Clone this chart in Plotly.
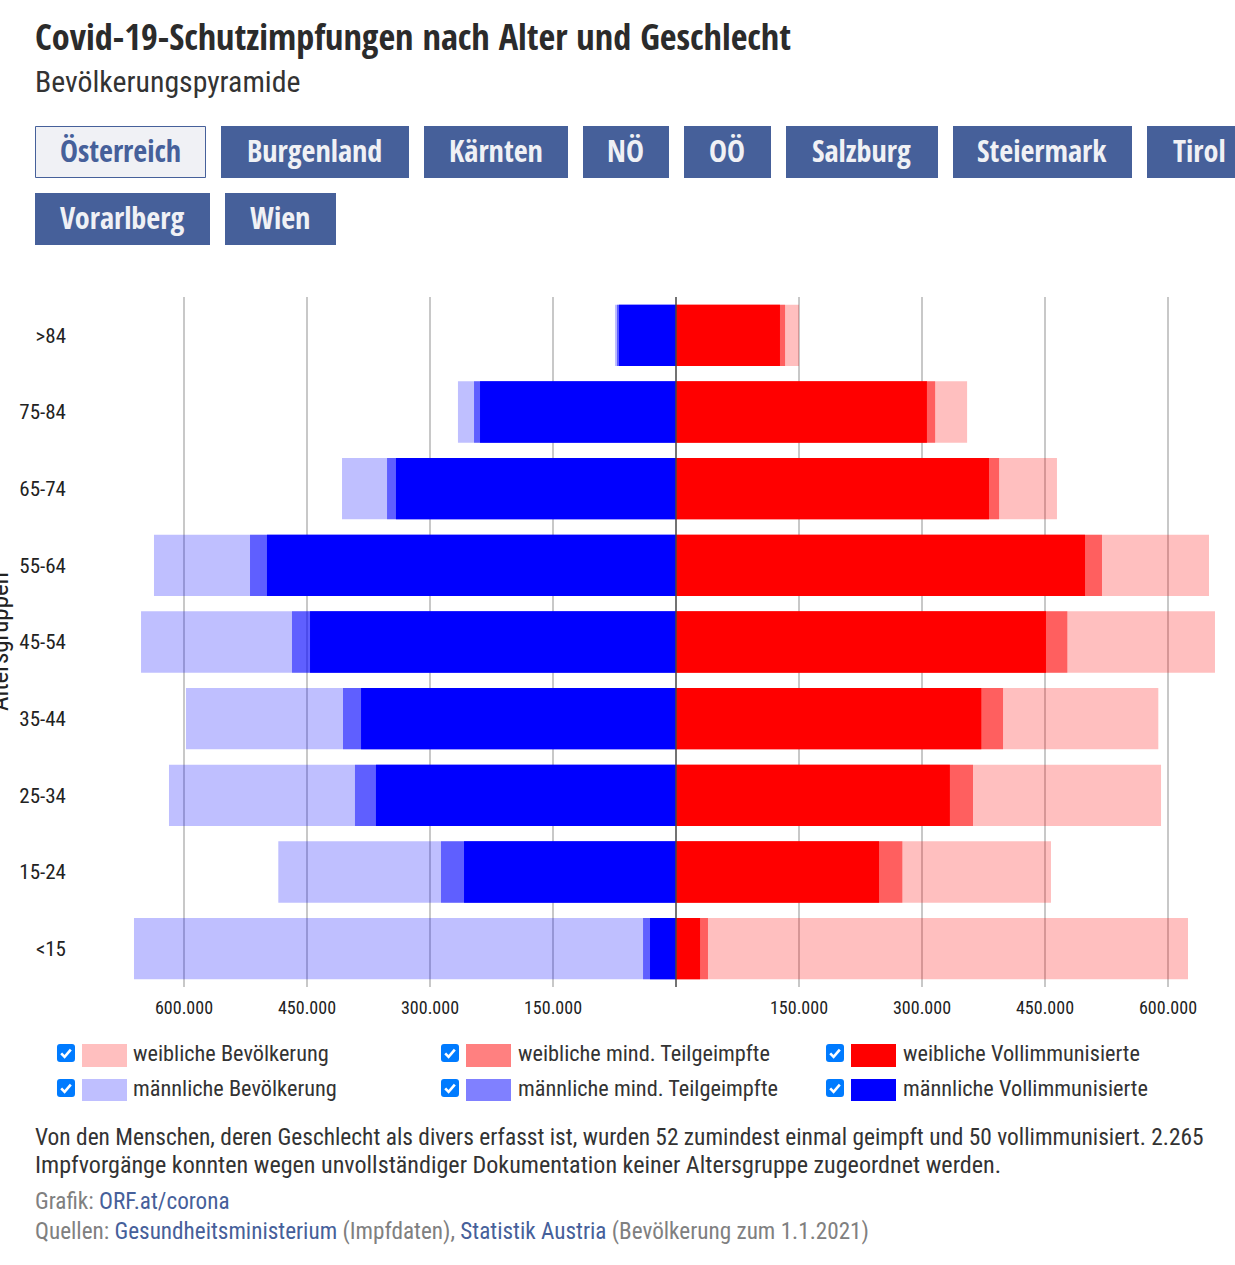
import plotly.graph_objects as go

W, H = 1235, 1265
FONT = "Roboto Condensed"
BOLD = "Open Sans Condensed"

# --- data ---
age_groups = [">84", "75-84", "65-74", "55-64", "45-54", "35-44", "25-34", "15-24", "<15"]
female_population = [150000, 355000, 464600, 650000, 657300, 588200, 591500, 457300, 624400]
female_partial = [133000, 316000, 394000, 519500, 477200, 398800, 362200, 276000, 39000]
female_full = [126800, 306000, 381700, 498800, 451200, 372300, 334000, 247600, 29300]
male_population = [74400, 265900, 407300, 636600, 652400, 597600, 618300, 485000, 661000]
male_partial = [72000, 246300, 352400, 519500, 468300, 406100, 391500, 286600, 40200]
male_full = [69500, 239000, 341500, 498800, 446300, 384100, 365900, 258500, 31700]
tick_values = [-600000, -450000, -300000, -150000, 150000, 300000, 450000, 600000]
tick_labels = ["600.000", "450.000", "300.000", "150.000", "150.000", "300.000", "450.000", "600.000"]
regions = ["Österreich", "Burgenland", "Kärnten", "NÖ", "OÖ", "Salzburg", "Steiermark", "Tirol", "Vorarlberg", "Wien"]
legend_labels = [
    ["weibliche Bevölkerung", "weibliche mind. Teilgeimpfte", "weibliche Vollimmunisierte"],
    ["männliche Bevölkerung", "männliche mind. Teilgeimpfte", "männliche Vollimmunisierte"],
]

# --- plot area in pixels, helpers (pixel -> paper) ---
ZERO, SCALE = 676, 0.00082
L, R, T, B = 70, 1225, 297, 987
def px(x): return (x - L) / (R - L)
def py(y): return (B - y) / (B - T)

shapes, annots = [], []

def rect(x0, y0, x1, y1, fill, line=None, lw=0):
    shapes.append(dict(type="rect", xref="paper", yref="paper", x0=px(x0), x1=px(x1), y0=py(y0), y1=py(y1),
                       fillcolor=fill, line=dict(color=line, width=lw) if line else dict(width=0)))

def text(x, y, s, size, color="#333333", anchor="left", family=FONT, **kw):
    dx = -1 if anchor == "left" else 0
    annots.append(dict(xref="paper", yref="paper", x=px(x + dx), y=py(y - 1), text=s,
                       showarrow=False, xanchor=anchor, yanchor="middle", align="left",
                       borderpad=0, font=dict(family=family, size=size, color=color), **kw))

def checkbox(x, y):
    r = 3
    s = 18
    P = lambda a, b: f"{px(x + a):.5f},{py(y + b):.5f}"
    d = (f"M{P(r, 0)} L{P(s - r, 0)} Q{P(s, 0)} {P(s, r)} L{P(s, s - r)} Q{P(s, s)} {P(s - r, s)} "
         f"L{P(r, s)} Q{P(0, s)} {P(0, s - r)} L{P(0, r)} Q{P(0, 0)} {P(r, 0)} Z")
    shapes.append(dict(type="path", xref="paper", yref="paper", path=d, fillcolor="#007bff", line=dict(width=0)))
    tick = f"M{P(4.2, 9.3)} L{P(7.6, 12.8)} L{P(13.8, 5.6)}"
    shapes.append(dict(type="path", xref="paper", yref="paper", path=tick, line=dict(color="white", width=2.6)))

BLUE = "#46609a"

# header
text(35, 37, "Covid-19-Schutzimpfungen nach Alter und Geschlecht", 36.3, "#2b2b2b", family=BOLD)
text(35, 82, "Bevölkerungspyramide", 29.8, "#333333")

# region buttons
button_boxes = [(35, 126, 206, 178), (221, 126, 409, 178), (424, 126, 568, 178), (583, 126, 669, 178),
                (684, 126, 771, 178), (786, 126, 938, 178), (953, 126, 1132, 178), (1147, 126, 1253, 178),
                (35, 193, 210, 245), (225, 193, 336, 245)]
for i, (name, (x0, y0, x1, y1)) in enumerate(zip(regions, button_boxes)):
    if i == 0:
        rect(x0 + .5, y0 + .5, x1 - .5, y1 - .5, "#f0f1f5", BLUE, 1)
    else:
        rect(x0, y0, x1, y1, BLUE)
    text((x0 + x1) / 2 - 0.5, (y0 + y1) / 2 - 0.5, name, 30.2, BLUE if i == 0 else "#f0f1f5", anchor="center", family=BOLD)

# legend
swatches = [["#ffbfbf", "#ff8080", "#ff0000"], ["#bfbfff", "#8080ff", "#0000ff"]]
col_x = [57, 441, 826]
row_y = [(1044, 1067, 1054), (1079, 1101, 1089)]
for r, (sy0, sy1, ty) in enumerate(row_y):
    for c, cx in enumerate(col_x):
        checkbox(cx, sy0)
        rect(cx + 25, sy0, cx + 70, sy1, swatches[r][c])
        text(cx + 76 + (0 if c == 0 else 1), ty, legend_labels[r][c], 22.3, "#333333")

# footer
text(35, 1138, "Von den Menschen, deren Geschlecht als divers erfasst ist, wurden 52 zumindest einmal geimpft und 50 vollimmunisiert. 2.265", 23.4)
text(35, 1166, "Impfvorgänge konnten wegen unvollständiger Dokumentation keiner Altersgruppe zugeordnet werden.", 24.1)
G = "#808080"
text(35, 1202, f"<span style='color:{G}'>Grafik: </span><span style='color:{BLUE}'>ORF.at/corona</span>", 23.2, G)
text(35, 1232, (f"<span style='color:{G}'>Quellen: </span><span style='color:{BLUE}'>Gesundheitsministerium</span>"
                f"<span style='color:{G}'> (Impfdaten), </span><span style='color:{BLUE}'>Statistik Austria</span>"
                f"<span style='color:{G}'> (Bevölkerung zum 1.1.2021)</span>"), 23.2, G)

# clipped axis title
text(-1, 643, "Altersgruppen", 25, "#222222", anchor="center", textangle=-90)

# --- chart ---
series = [
    ("weibliche Bevölkerung", female_population, 1, "rgba(255,0,0,0.25)"),
    ("männliche Bevölkerung", male_population, -1, "rgba(0,0,255,0.25)"),
    ("weibliche mind. Teilgeimpfte", female_partial, 1, "rgba(255,0,0,0.5)"),
    ("männliche mind. Teilgeimpfte", male_partial, -1, "rgba(0,0,255,0.5)"),
    ("weibliche Vollimmunisierte", female_full, 1, "rgb(255,0,0)"),
    ("männliche Vollimmunisierte", male_full, -1, "rgb(0,0,255)"),
]
fig = go.Figure()
for name, vals, sign, color in series:
    fig.add_trace(go.Bar(y=age_groups, x=[sign * v for v in vals], name=name, orientation="h",
                         marker=dict(color=color, line=dict(width=0)), showlegend=False))

# axis line at zero, above the bars
shapes.append(dict(type="line", xref="x", yref="paper", x0=0, x1=0, y0=0, y1=1,
                   line=dict(color="#444444", width=1.5), layer="above"))

fig.update_layout(
    width=W, height=H, barmode="overlay", bargap=0.2,
    margin=dict(l=L, r=W - R, t=T, b=H - B, pad=0, autoexpand=False),
    paper_bgcolor="white", plot_bgcolor="white",
    font=dict(family=FONT, color="#222222"),
    xaxis=dict(range=[(L - ZERO) / SCALE, (R - ZERO) / SCALE], tickmode="array", tickvals=tick_values,
               ticktext=tick_labels, showgrid=True, gridcolor="#c8c8c8", gridwidth=1.5, zeroline=False,
               showline=False, ticks="", ticklabelstandoff=8, tickfont=dict(family=FONT, size=18, color="#222222")),
    yaxis=dict(categoryorder="array", categoryarray=age_groups, autorange="reversed", showgrid=False,
               zeroline=False, showline=False, ticks="", ticklabelstandoff=3,
               tickfont=dict(family=FONT, size=21, color="#222222")),
    shapes=shapes, annotations=annots,
)
fig.write_html("out.html", config=dict(displayModeBar=False),
               post_script="document.body.style.margin='0';document.body.style.overflow='hidden';")
